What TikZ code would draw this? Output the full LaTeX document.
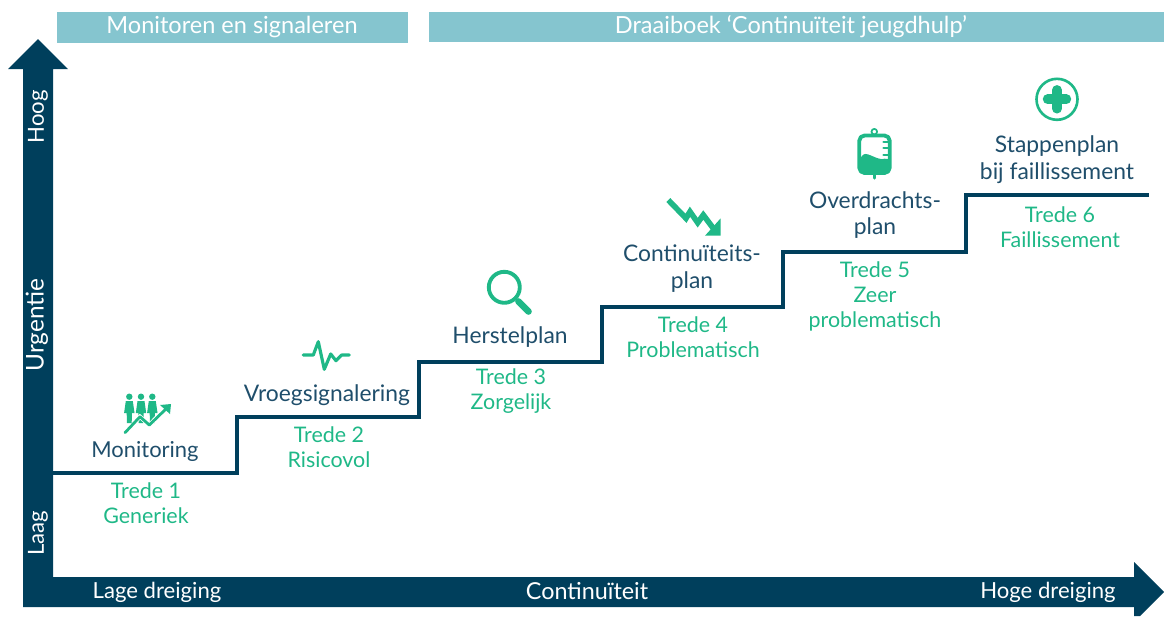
\documentclass[tikz,border=0pt]{standalone}
\usepackage{fontspec}
\setmainfont{Lato}
\definecolor{darkblue}{HTML}{003F5C}
\definecolor{planblue}{HTML}{1F4E6B}
\definecolor{lightblue}{HTML}{85C5CF}
\definecolor{tredegreen}{HTML}{1FB887}
\tikzset{
  planlabel/.style={text=planblue,font=\fontsize{13}{15.3}\selectfont,align=center,inner sep=0pt},
  tredelabel/.style={text=tredegreen,font=\fontsize{12.2}{14.2}\selectfont,align=center,inner sep=0pt},
  axislabel/.style={text=white,font=\fontsize{12.6}{14}\selectfont,inner sep=0pt},
  banner/.style={fill=lightblue,draw=none},
  bannerlabel/.style={text=white,font=\fontsize{13.4}{15}\selectfont,inner sep=0pt},
  icon/.style={draw=tredegreen,line cap=round,line join=round},
}
\begin{document}
\begin{tikzpicture}[x=0.02cm,y=-0.02cm]
        \useasboundingbox (0,0) rectangle (1164,616);
        % banners
        \fill[banner] (57,12) rectangle (408,43);
        \fill[banner] (429,12) rectangle (1164,42);
        \node[bannerlabel] (monitoren) at (232,27) {Monitoren en signaleren};
        \node[bannerlabel] (draaiboek) at (791,27) {Draaiboek ‘Continuïteit jeugdhulp’};
        % axes
        \fill[darkblue] (38,39) -- (68,69) -- (53,69) -- (53,577) -- (1134,577) -- (1134,562) -- (1164,592)
        -- (1140,616) -- (1134,616) -- (1134,607) -- (23,607) -- (23,69) -- (8,69) -- cycle;
        \node[axislabel,rotate=90] (hoog) at (38,117) {Hoog};
        \node[axislabel,rotate=90,font=\fontsize{13.9}{15}\selectfont] (urgentie) at (37,325) {Urgentie};
        \node[axislabel,rotate=90] (laag) at (38,533) {Laag};
        \node[axislabel] (lage) at (157,592) {Lage dreiging};
        \node[axislabel,font=\fontsize{13.3}{15}\selectfont] (continuiteit) at (587,591) {Continuïteit};
        \node[axislabel] (hoge) at (1048,592) {Hoge dreiging};
        % stairs
        \coordinate (start) at (53,473);
        \coordinate (s1) at (237,473);
        \coordinate (s2) at (419,417);
        \coordinate (s3) at (602,362);
        \coordinate (s4) at (783,307);
        \coordinate (s5) at (966,252);
        \coordinate (s6) at (966,195);
        \coordinate (end) at (1149,195);
        \draw[darkblue,line width=2pt] (start) -- (s1) |- (s2) |- (s3) |- (s4) |- (s5) -- (s6) -- (end);
        % steps
        \node[planlabel,font=\fontsize{12.5}{15}\selectfont] (monitoring) at (145,451) {Monitoring};
        \node[tredelabel] (trede1) at (146,503) {Trede 1\\Generiek};
        \node[planlabel] (vroeg) at (327,395) {Vroegsignalering};
        \node[tredelabel] (trede2) at (329,447) {Trede 2\\Risicovol};
        \node[planlabel] (herstel) at (510,337) {Herstelplan};
        \node[tredelabel] (trede3) at (511,391) {Trede 3\\Zorgelijk};
        \node[planlabel] (continu) at (692,269) {Continuïteits-\\plan};
        \node[tredelabel] (trede4) at (693,337) {Trede 4\\Problematisch};
        \node[planlabel] (overdracht) at (875,215) {Overdrachts-\\plan};
        \node[tredelabel] (trede5) at (875,296) {Trede 5\\Zeer\\problematisch};
        \node[planlabel] (stappen) at (1057,160) {Stappenplan\\bij faillissement};
        \node[tredelabel] (trede6) at (1060,227) {Trede 6\\Faillissement};
        % monitoring icon
        \foreach \px in {129.3,141,152.3} {
          \fill[tredegreen] (\px,396.7) circle (3.2);
          \fill[tredegreen] (\px-3.5,401) -- (\px+3.5,401) -- (\px+5.2,413) -- (\px+2.6,413) -- (\px+2.4,423) -- (\px-2.4,423) -- (\px-2.6,413) -- (\px-5.2,413) -- cycle;
        }
        \draw[white,line width=2.4pt] (136,421) -- (140,416.7) -- (149.3,425) -- (165,409);
        \draw[icon,line width=1.6pt] (125,432.7) -- (140,416.7) -- (149.3,425) -- (168,407);
        \fill[tredegreen] (171,404) -- (170,414) -- (160,405) -- cycle;
        % pulse icon
        \draw[icon,line width=1.8pt] (303.3,355) -- (313.3,355) -- (318.3,341.7) -- (324.3,369.3) -- (330.7,354)
        -- (336,360.7) -- (341.7,355) -- (349.3,355);
        % magnifier icon
        \draw[icon,line width=2.2pt] (504.3,287.3) circle (15.5);
        \draw[icon,line width=3.8pt] (518.5,301.5) -- (528.5,311.5);
        % falling arrow icon
        \draw[tredegreen,line width=3.2pt] (668.3,200) -- (686,218.3) -- (690,211.7) -- (697.7,222.7) -- (703.3,215) -- (713.3,228.3);
        \fill[tredegreen] (720.7,218.3) -- (720.7,235.7) -- (705,235.7) -- cycle;
        % drip bag icon
        \draw[icon,line width=1pt] (874.3,131.7) circle (2.8);
        \draw[icon,line width=2.2pt,rounded corners=3pt] (859.3,135.5) rectangle (889.7,173);
        \fill[tredegreen,rounded corners=3pt] (859.3,173.5) -- (859.3,157) .. controls (868,152) and (878,161) .. (889.7,157) -- (889.7,173.5) -- cycle;
        \draw[icon,line width=1.2pt] (883.5,141.7) -- (889,141.7) (883.5,148.3) -- (889,148.3) (883.5,155) -- (889,155);
        \draw[icon,line width=1.8pt] (874.3,173) -- (874.3,178);
        % cross icon
        \draw[icon,line width=1.5pt] (1057,99.3) circle (20.5);
        \draw[icon,line width=5.6pt,line cap=round] (1057,90) -- (1057,108.6) (1047.7,99.3) -- (1066.3,99.3);
\end{tikzpicture}
\end{document}
